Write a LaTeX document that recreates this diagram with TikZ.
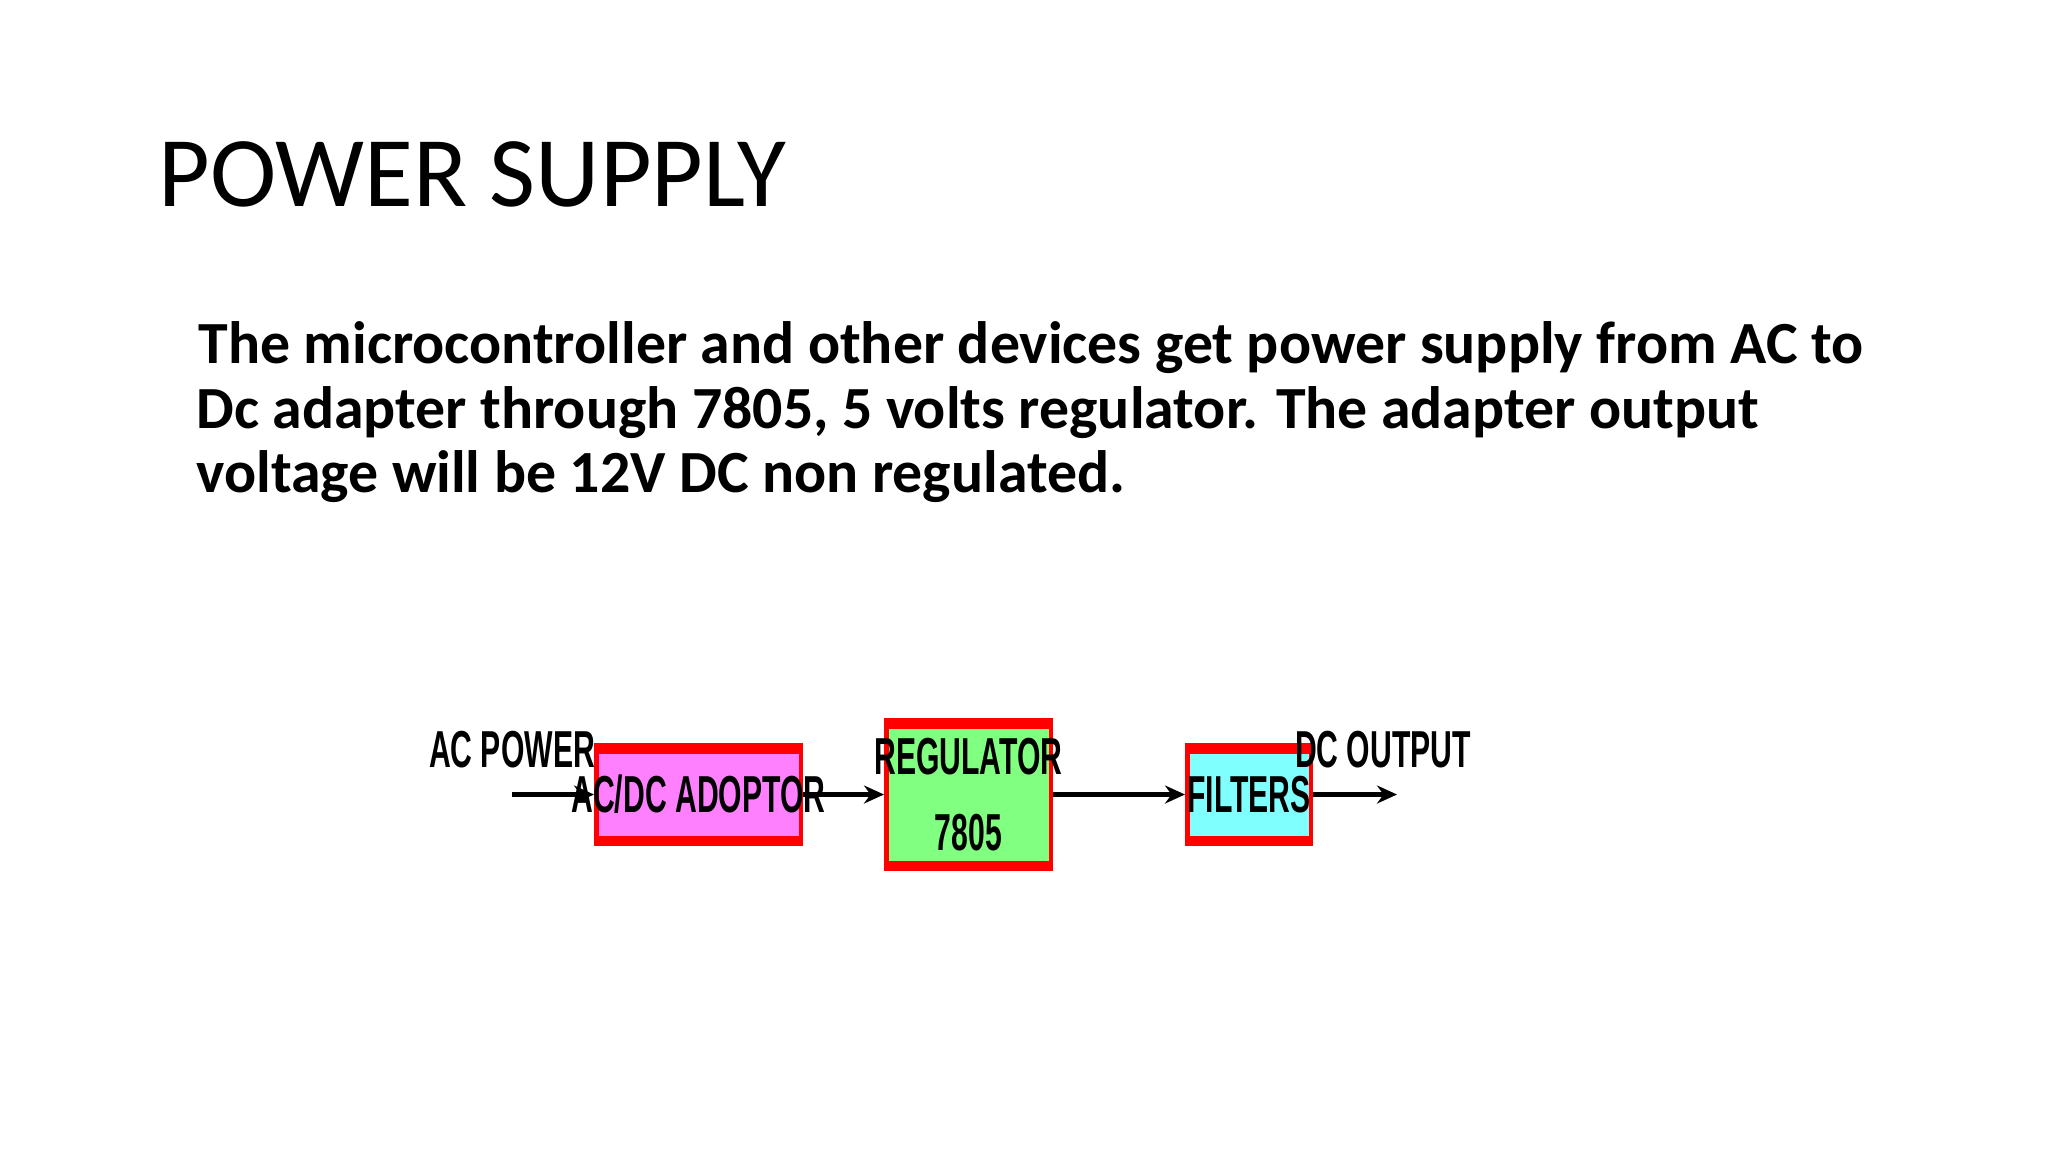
\documentclass[tikz,border=0pt]{standalone}
\usepackage{fontspec}
\setmainfont{Carlito}
\newfontfamily\boxfont{Liberation Sans}
\usetikzlibrary{arrows.meta}
\definecolor{pinkf}{HTML}{FF80FF}
\definecolor{greenf}{HTML}{80FF80}
\definecolor{cyanf}{HTML}{80FFFF}
\newcommand{\nar}[1]{\scalebox{0.58}[1]{#1}}
\begin{document}
\begin{tikzpicture}[x=0.5pt,y=-0.5pt,
  outerbox/.style={fill=red,inner sep=0,outer sep=0},
  innerbox/.style={inner sep=0,outer sep=0,align=center},
  lab/.style={font=\boxfont\bfseries\fontsize{26}{34}\selectfont,inner sep=0},
  conn/.style={line width=2.8pt,-{Stealth[length=10pt,width=9pt]}}]
\useasboundingbox (0,0) rectangle (2048,1152);
\fill[white] (0,0) rectangle (2048,1152);
\node[anchor=base west,font=\fontsize{50}{52}\selectfont,inner sep=0] (title) at (158,206) {POWER SUPPLY};
\node[anchor=base west,font=\bfseries\fontsize{29.9}{33}\selectfont,inner sep=0] (l1) at (198,363) {The microcontroller and other devices get power supply from AC to};
\node[anchor=base west,font=\bfseries\fontsize{29.9}{33}\selectfont,inner sep=0] (l2) at (196,428) {Dc adapter through 7805, 5 volts regulator. The adapter output};
\node[anchor=base west,font=\bfseries\fontsize{29.9}{33}\selectfont,inner sep=0] (l3) at (196,492) {voltage will be 12V DC non regulated.};
% boxes
\node[outerbox,minimum width=104.5pt,minimum height=51.5pt] (adp) at (698.5,794.5) {};
\node[innerbox,fill=pinkf,minimum width=100pt,minimum height=41pt] (adpi) at (adp) {};
\node[lab] at (adp) {\nar{AC/DC ADOPTOR}};
\node[outerbox,minimum width=84.5pt,minimum height=76.5pt] (reg) at (968.5,794.5) {};
\node[innerbox,fill=greenf,minimum width=80pt,minimum height=66pt] (regi) at (reg) {};
\node[lab,align=center] at (reg) {\nar{REGULATOR}\\[4pt]\nar{7805}};
\node[outerbox,minimum width=64pt,minimum height=51.5pt] (fil) at (1249,794.5) {};
\node[innerbox,fill=cyanf,minimum width=59.5pt,minimum height=41pt] (fili) at (fil) {};
\node[lab] at (fil) {\nar{FILTERS}};
\node[lab] (acp) at (512,750) {\nar{AC POWER}};
\node[lab] (dco) at (1383,750) {\nar{DC OUTPUT}};
\coordinate (in) at (512,794.5);
\coordinate (out) at (1397,794.5);
\draw[conn] (in) -- (adp.west);
\draw[conn] (adp.east) -- (reg.west);
\draw[conn] (reg.east) -- (fil.west);
\draw[conn] (fil.east) -- (out);
\end{tikzpicture}
\end{document}
